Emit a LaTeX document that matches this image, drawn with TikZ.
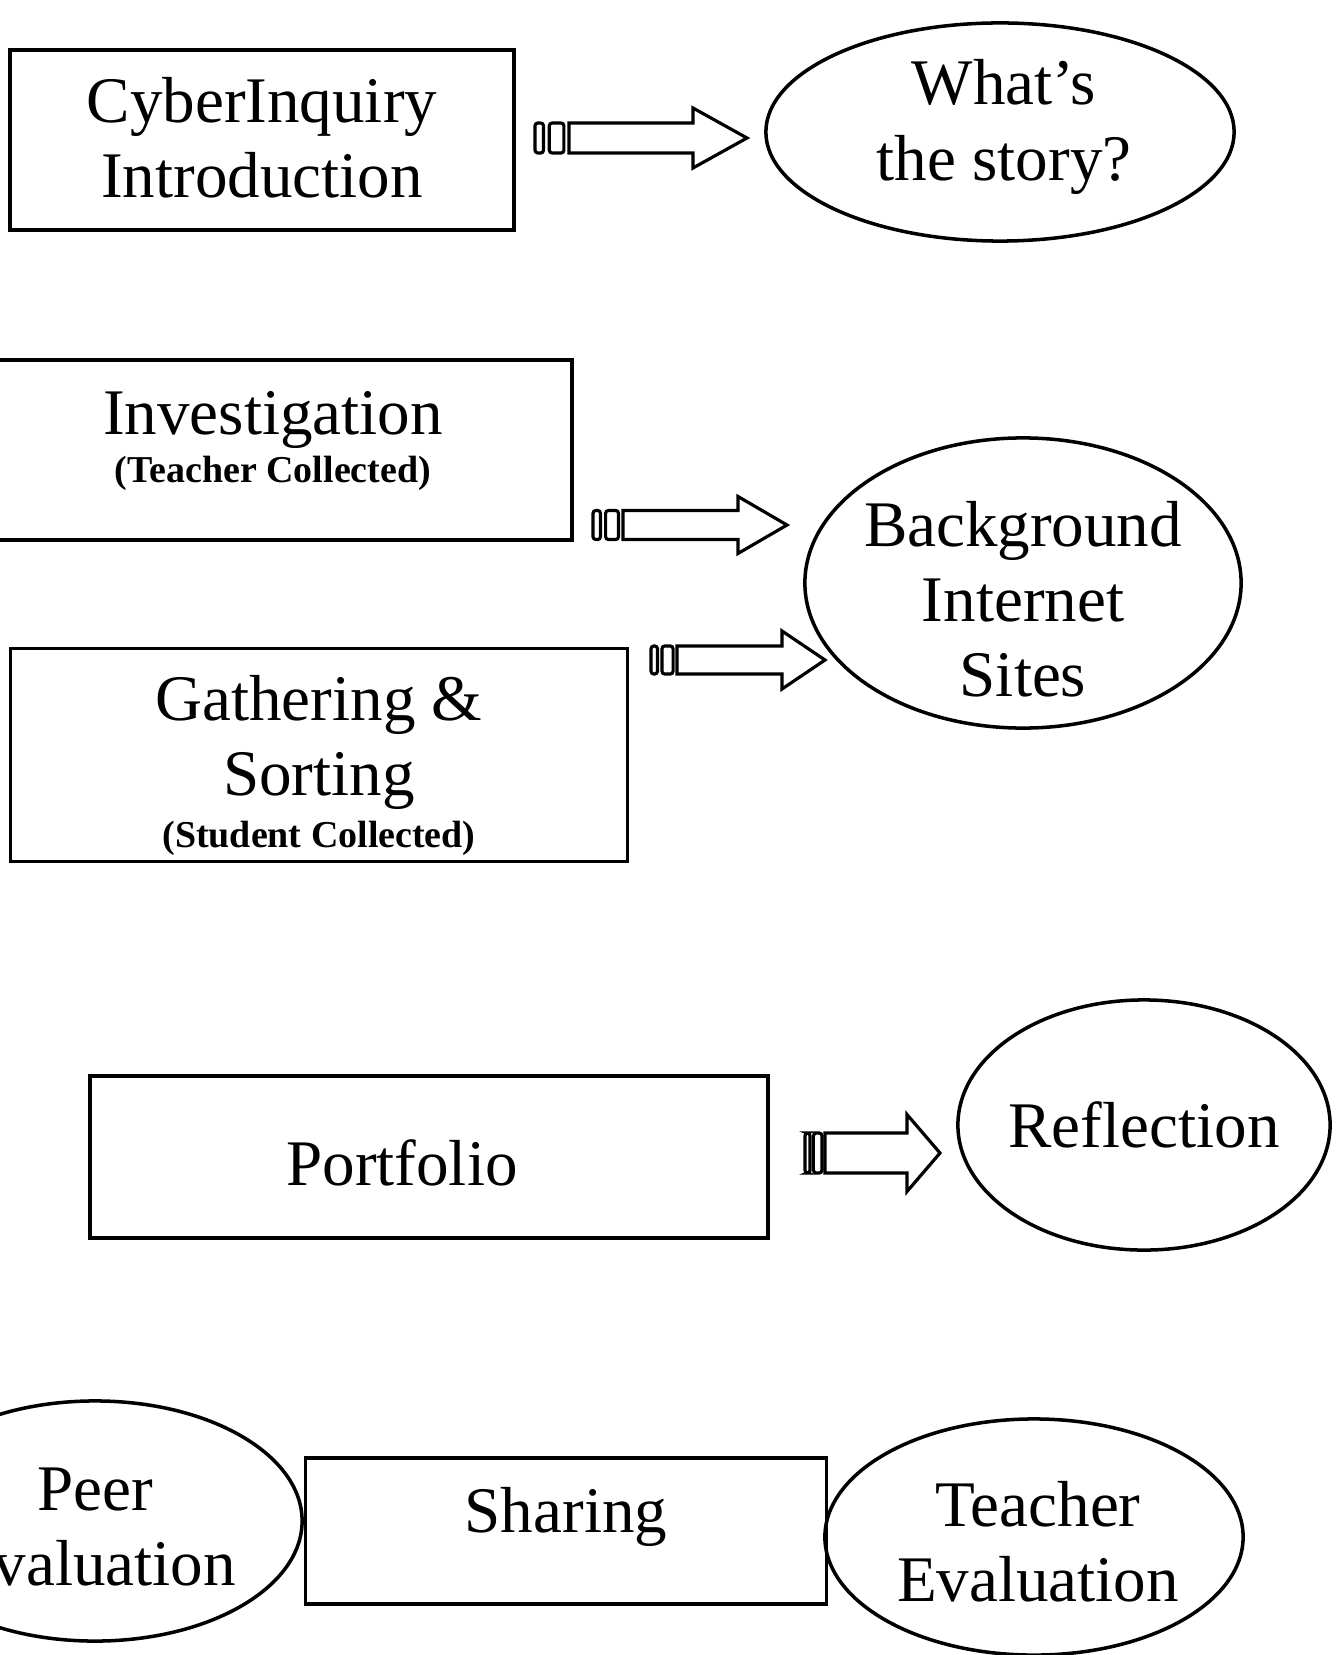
\documentclass[tikz,border=0pt]{standalone}
\usepackage{fontspec}
\setmainfont{Liberation Serif}
\usetikzlibrary{shapes,calc,positioning}

\newcommand{\bigfont}{\fontsize{18.5}{21.4}\selectfont}
\newcommand{\subfont}{\fontsize{10.8}{13}\selectfont\bfseries}
% block arrow: bar x, shaft x, head x, tip x, mid y, shaft half, head half
\newcommand{\fatarrow}[7]{%
	\draw[arrowline, rounded corners=0.8pt] (#1,#5-#6) rectangle ({#1+0.25*(#2-#1)},#5+#6);
	\draw[arrowline, rounded corners=0.8pt] ({#1+0.42*(#2-#1)},#5-#6) rectangle ({#1+0.85*(#2-#1)},#5+#6);
	\draw[arrowline] (#2,#5-#6) -- (#3,#5-#6) -- (#3,#5-#7) -- (#4,#5) -- (#3,#5+#7) -- (#3,#5+#6) -- (#2,#5+#6) -- cycle;
}

\begin{document}
\begin{tikzpicture}[x=0.01cm, y=-0.01cm,
		box/.style={draw, line width=1pt, rectangle, inner sep=0pt},
		oval/.style={draw, line width=1pt, ellipse, inner sep=0pt},
		txt/.style={font=\bigfont, align=center, inner sep=0pt},
		arrowline/.style={line width=0.9pt, line join=miter}]
	\useasboundingbox (0,0) rectangle (1338,1655);
	% introduction
	\node[box, minimum width=5.04cm, minimum height=1.80cm,
		label={[txt, yshift=0.02cm]center:{CyberInquiry\\Introduction}}] (intro) at (262,140) {};
	\node[oval, minimum width=4.68cm, minimum height=2.18cm,
		label={[txt, xshift=0.04cm, yshift=0.05cm]center:{What's\\the story?}}] (story) at (1000,132) {};
	\fatarrow{535}{569}{693}{747}{138}{15}{30}
	% investigation and gathering
	\node[box, minimum width=5.82cm, minimum height=1.80cm,
		label={[txt, xshift=-0.08cm, yshift=0.09cm]center:{Investigation\\[-7.9pt]{\subfont (Teacher Collected)}}}] (invest) at (281,450) {};
	\node[box, minimum width=6.17cm, minimum height=2.13cm,
		label={[txt, yshift=-0.10cm]center:{Gathering \&\\Sorting\\[-6.7pt]{\subfont (Student Collected)}}}] (gather) at (319,755) {};
	\node[oval, minimum width=4.36cm, minimum height=2.90cm,
		label={[txt, yshift=-0.16cm]center:{Background\\Internet\\Sites}}] (sites) at (1023,583) {};
	\fatarrow{593}{623}{738}{787}{525}{14.5}{28.5}
	\fatarrow{651}{677}{782}{825}{660}{14}{29}
	% portfolio
	\node[box, minimum width=6.78cm, minimum height=1.62cm,
		label={[txt, xshift=-0.27cm, yshift=-0.06cm]center:{Portfolio}}] (portfolio) at (429,1157) {};
	\node[oval, minimum width=3.72cm, minimum height=2.50cm,
		label={[txt]center:{Reflection}}] (reflect) at (1144,1125) {};
	\fatarrow{805}{825}{907}{940}{1153}{20}{38.5}
	% sharing
	\node[oval, minimum width=4.14cm, minimum height=2.40cm,
		label={[txt, yshift=-0.06cm]center:{Peer\\Evaluation}}] (peer) at (95,1521) {};
	\node[box, minimum width=5.21cm, minimum height=1.46cm,
		label={[txt, yshift=0.14cm]center:{Sharing}}] (share) at (566,1531) {};
	\node[oval, minimum width=4.18cm, minimum height=2.36cm,
		label={[txt, xshift=0.04cm, yshift=-0.05cm]center:{Teacher\\Evaluation}}] (teacher) at (1034,1537) {};
\end{tikzpicture}
\end{document}
